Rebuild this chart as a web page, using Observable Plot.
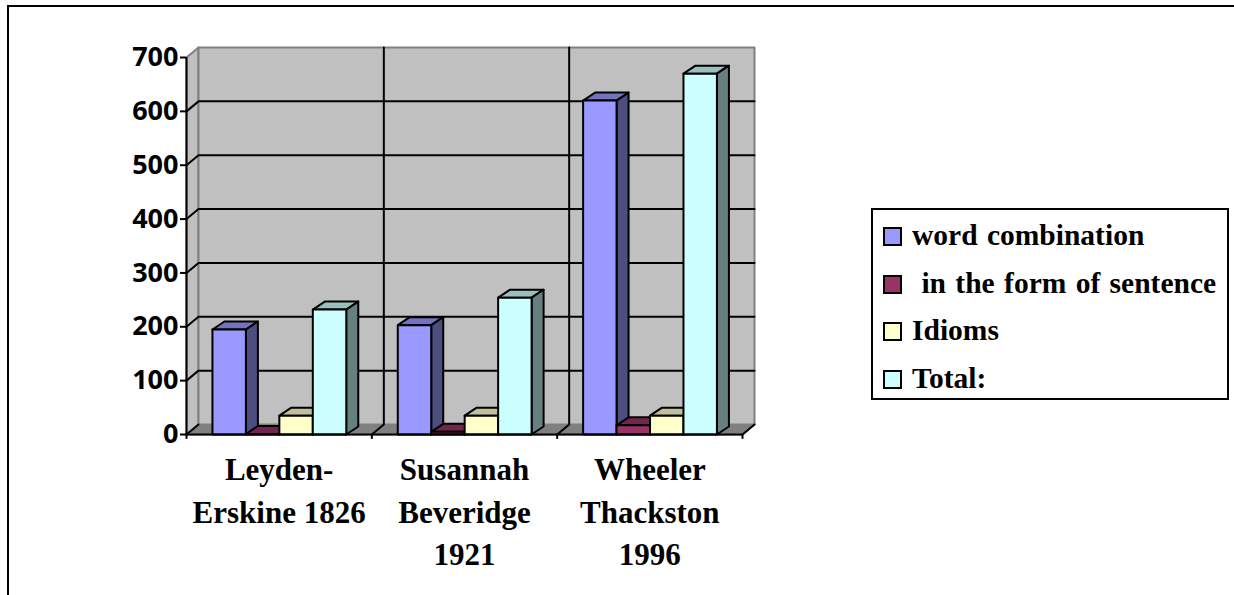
<!DOCTYPE html>
<html><head><meta charset="utf-8">
<script src="https://cdn.jsdelivr.net/npm/d3@7"></script>
<script src="https://cdn.jsdelivr.net/npm/@observablehq/plot@0.6"></script>
<style>
html,body{margin:0;padding:0;background:#fff;overflow:hidden}
#page{position:relative;width:1234px;height:595px;overflow:hidden}
#frame{position:absolute;left:7px;top:5px;right:-10px;bottom:-10px;border:2px solid #000;box-sizing:border-box}
#chart{position:absolute;left:0;top:0}
#legend{position:absolute;left:871px;top:208px;width:358px;height:192px;border:2px solid #000;box-sizing:border-box;background:#fff;
 font:bold 29.5px "Liberation Serif",serif;word-spacing:2px;color:#000}
.row{position:absolute;left:0;height:48px;line-height:48px;white-space:pre}
.sw{position:absolute;left:10px;top:14px;width:19px;height:19px;border:2px solid #000;box-sizing:border-box}
.lb{position:absolute;left:39px;top:-2px}
</style></head><body>
<div id="page"><div id="frame"></div><div id="chart"></div><div id="legend"></div></div>
<script>
const categories = ["Leyden-\nErskine 1826", "Susannah\nBeveridge\n1921", "Wheeler\nThackston\n1996"];
const series = ["word combination", " in the form of sentence", "Idioms", "Total:"];
const colors = ["#9999FF", "#993366", "#FFFFCC", "#CCFFFF"];
const wordCombination = [195, 203, 620];
const inFormOfSentence = [1, 5, 17];
const idioms = [35, 35, 35];
const total = [232, 254, 670];
const seriesValues = [wordCombination, inFormOfSentence, idioms, total];
const yTicks = [0, 100, 200, 300, 400, 500, 600, 700];

// depth of the 3D box, in data units
const wallDX = 12 / 185.33, wallDY = 10 / 0.5386;
const barDX = 12 / 185.33, barDY = 8 / 0.5386;
const groupGap = 0.14, barW = 0.1805;
const tickDown = 9;

const shade = (c, k) => { const r = d3.rgb(c); return d3.rgb(r.r * k, r.g * k, r.b * k).formatHex(); };

let id = 0;
const poly = (pts, fill) => { const f = id++; return pts.map(([x, y]) => ({x, y, f, fill})); };

const walls = [
  ...poly([[0, 0], [wallDX, wallDY], [3 + wallDX, wallDY], [3, 0], [0, 0]], "#808080"),
  ...poly([[0, 0], [wallDX, wallDY], [wallDX, 700 + wallDY], [0, 700], [0, 0]], "#C0C0C0"),
  ...poly([[wallDX, wallDY], [wallDX, 700 + wallDY], [3 + wallDX, 700 + wallDY], [3 + wallDX, wallDY], [wallDX, wallDY]], "#C0C0C0")
];

const grid = [];
yTicks.filter(v => v > 0 && v < 700).forEach(v => {
  const f = id++;
  grid.push({x: 0, y: v, f}, {x: wallDX, y: v + wallDY, f}, {x: 3 + wallDX, y: v + wallDY, f});
});
[1, 2].forEach(c => {
  const f = id++;
  grid.push({x: c, y: 0, f}, {x: c + wallDX, y: wallDY, f}, {x: c + wallDX, y: 700 + wallDY, f});
});
{ const f = id++; grid.push({x: 3, y: 0, f}, {x: 3 + wallDX, y: wallDY, f}); }
{ const f = id++; grid.push({x: 0, y: 0, f}, {x: wallDX, y: wallDY, f}); }

const bars = [];
categories.forEach((_, c) => {
  series.forEach((_, s) => {
    const v = seriesValues[s][c];
    const x0 = c + groupGap + s * barW, x1 = x0 + barW;
    bars.push(...poly([[x0, v], [x0 + barDX, v + barDY], [x1 + barDX, v + barDY], [x1, v], [x0, v]], shade(colors[s], 0.75)));
    bars.push(...poly([[x1, 0], [x1 + barDX, barDY], [x1 + barDX, v + barDY], [x1, v], [x1, 0]], shade(colors[s], 0.5)));
    bars.push(...poly([[x0, 0], [x0, v], [x1, v], [x1, 0], [x0, 0]], colors[s]));
  });
});

const catRows = categories.map((label, i) => ({label, pos: i + 0.5}));

const plot = Plot.plot({
  width: 1234, height: 595,
  marginLeft: 186, marginRight: 492, marginTop: 57, marginBottom: 161,
  style: {background: "transparent"},
  x: {type: "linear", domain: [0, 3], axis: null},
  y: {type: "linear", domain: [0, 700], axis: null},
  marks: [
    Plot.line(walls, {x: "x", y: "y", z: "f", fill: "fill", stroke: "#808080", strokeWidth: 2, curve: "linear"}),
    Plot.line(grid, {x: "x", y: "y", z: "f", stroke: "#000", strokeWidth: 2, curve: "linear"}),
    Plot.line(bars, {x: "x", y: "y", z: "f", fill: "fill", stroke: "#000", strokeWidth: 2, curve: "linear"}),
    Plot.ruleX([0], {y1: 0, y2: 700, stroke: "#000", strokeWidth: 2}),
    Plot.ruleY([0], {x1: 0, x2: 3, stroke: "#000", strokeWidth: 2}),
    Plot.axisY({ticks: yTicks, tickSize: 6, tickPadding: 2, tickFormat: d3.format("d"), label: null, stroke: "#000",
      strokeWidth: 2, fontFamily: "'Open Sans',sans-serif", fontSize: 27, fontWeight: 700, fill: "#000", style: {letterSpacing: "0.6px"}}),
    Plot.ruleX([0, 1, 2, 3], {y1: 0, y2: -tickDown, stroke: "#000", strokeWidth: 2}),
    Plot.text(catRows, {x: "pos", y: 0, text: "label", dy: 16, lineAnchor: "top", lineHeight: 1.36,
      fontFamily: "'Liberation Serif',serif", fontSize: 31, fontWeight: 700, fill: "#000"})
  ]
});
document.getElementById("chart").appendChild(plot);

const legend = document.getElementById("legend");
series.forEach((name, i) => {
  const row = document.createElement("div");
  row.className = "row";
  row.style.top = (3 + i * 47.7) + "px";
  row.innerHTML = `<span class="sw" style="background:${colors[i]}"></span><span class="lb"></span>`;
  row.querySelector(".lb").textContent = name;
  legend.appendChild(row);
});
</script>
</body></html>
